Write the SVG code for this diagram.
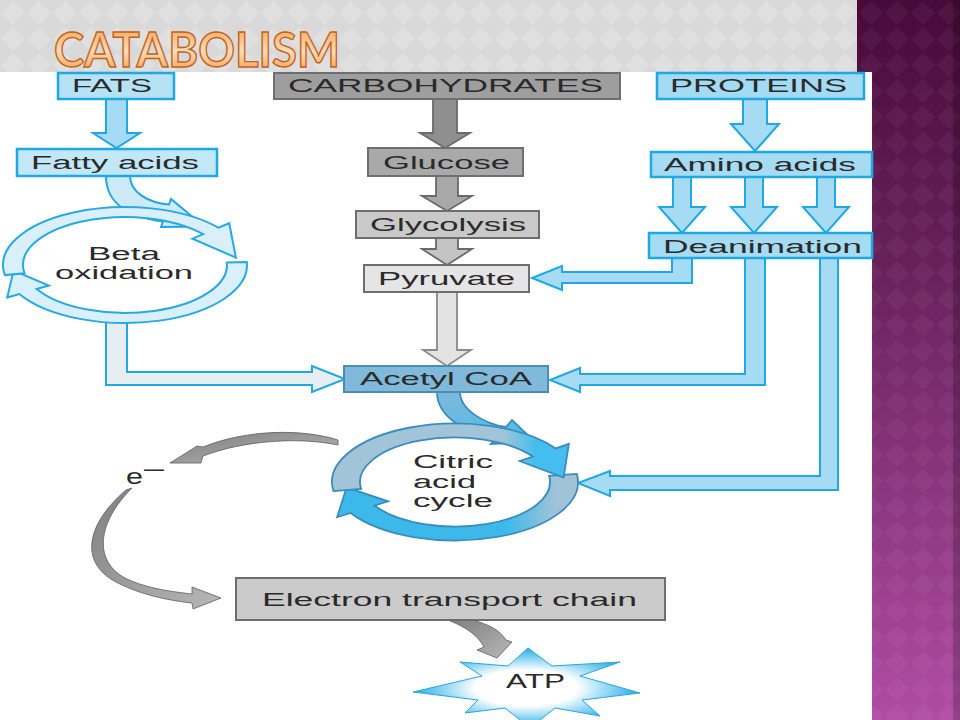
<svg xmlns="http://www.w3.org/2000/svg" width="960" height="720" viewBox="0 0 960 720">
<defs>
<pattern id="dia" width="26" height="26" patternUnits="userSpaceOnUse">
<rect width="26" height="26" fill="#d9d9d9"/>
<polygon points="13,1 25,13 13,25 1,13" fill="#e0e0e0"/>
</pattern>
<pattern id="diaP" width="26" height="26" patternUnits="userSpaceOnUse">
<polygon points="13,1 25,13 13,25 1,13" fill="#ffffff" fill-opacity="0.04"/>
</pattern>
<linearGradient id="purple" x1="0" y1="0" x2="0" y2="1">
<stop offset="0" stop-color="#470a39"/>
<stop offset="0.45" stop-color="#702664"/>
<stop offset="1" stop-color="#b04ca3"/>
</linearGradient>
<linearGradient id="titleG" x1="0" y1="0" x2="0" y2="1">
<stop offset="0" stop-color="#f39a42"/>
<stop offset="0.55" stop-color="#fcdcb8"/>
<stop offset="1" stop-color="#f0953c"/>
</linearGradient>
<linearGradient id="grayArr" x1="0" y1="0" x2="1" y2="1">
<stop offset="0" stop-color="#7e7e7e"/>
<stop offset="1" stop-color="#b8b8b8"/>
</linearGradient>
<linearGradient id="citTop" x1="0" y1="0" x2="1" y2="0">
<stop offset="0" stop-color="#a2c4d9"/>
<stop offset="0.72" stop-color="#a2c4d9"/>
<stop offset="0.86" stop-color="#45bdee"/>
<stop offset="1" stop-color="#45bdee"/>
</linearGradient>
<linearGradient id="citBot" x1="0" y1="0" x2="1" y2="0">
<stop offset="0" stop-color="#3cb9ea"/>
<stop offset="0.7" stop-color="#3cb9ea"/>
<stop offset="0.9" stop-color="#9fc2d6"/>
<stop offset="1" stop-color="#9fc2d6"/>
</linearGradient>
<linearGradient id="acetArr" x1="0" y1="0" x2="1" y2="1">
<stop offset="0" stop-color="#7fb8d9"/>
<stop offset="1" stop-color="#45bdee"/>
</linearGradient>
<radialGradient id="star" cx="0.5" cy="0.5" r="0.5">
<stop offset="0" stop-color="#ffffff"/>
<stop offset="0.45" stop-color="#ffffff"/>
<stop offset="1" stop-color="#22aee8"/>
</radialGradient>
<style>
.t{font-family:"Liberation Sans",Arial,sans-serif;font-size:18px;fill:#2a2a2a}
.bb{stroke:#1fa8e4;stroke-width:2.5}
.gb{stroke:#6e6e6e;stroke-width:2}
.ba{fill:#a6dbf4;stroke:#1fa8e4;stroke-width:2;stroke-linejoin:miter}
.ga{stroke:#6a6a6a;stroke-width:1.8}
.gc{fill:url(#grayArr);stroke:#5e5e5e;stroke-width:0.8}
.ring{vector-effect:non-scaling-stroke}
</style>
</defs>

<!-- background -->
<rect x="0" y="0" width="960" height="720" fill="url(#purple)"/>
<rect x="0" y="0" width="960" height="720" fill="url(#diaP)"/>
<rect x="953" y="0" width="7" height="720" fill="#000" fill-opacity="0.18"/>
<rect x="0" y="0" width="857" height="72" fill="url(#dia)"/>
<rect x="0" y="72" width="872" height="648" fill="#ffffff"/>
<text x="54" y="67" textLength="286" lengthAdjust="spacingAndGlyphs" style="font-family:Lato,'Open Sans',sans-serif;font-size:48px;font-weight:700;fill:url(#titleG);stroke:#c4621b;stroke-width:1.4">CATABOLISM</text>

<g id="connectors">
<!-- straight block arrows -->
<polygon class="ba" points="106,99 127,99 127,133 140,133 116.5,148 93,133 106,133"/>
<polygon class="ba" points="743,99 767,99 767,124 779,124 755,151 731,124 743,124"/>
<polygon class="ba" points="673,177 691,177 691,207 705,207 682,233 659,207 673,207"/>
<polygon class="ba" points="745,177 763,177 763,207 777,207 754,233 731,207 745,207"/>
<polygon class="ba" points="817,177 835,177 835,207 849,207 826,233 803,207 817,207"/>
<polygon class="ba" points="672,258 692,258 692,283 562,283 562,290 532,278 562,266 562,272 672,272"/>
<polygon class="ba" points="745,258 765,258 765,385 580,385 580,392 550,380 580,368 580,374 745,374"/>
<polygon class="ba" points="820,258 838,258 838,490 610,490 610,496 578,483 610,471 610,476 820,476"/>
<polygon class="ba" style="fill:#e6eef2" points="106,316 127,316 127,372 312,372 312,366 345,379 312,392 312,385 106,385"/>
<polygon class="ga" style="fill:#8f8f8f" points="433,99 457,99 457,133 470,133 445,148 420,133 433,133"/>
<polygon class="ga" style="fill:#a8a8a8" points="436,176 458,176 458,196 472,196 447,211 422,196 436,196"/>
<polygon class="ga" style="fill:#c4c4c4" points="436,238 458,238 458,249 472,249 447,265 422,249 436,249"/>
<polygon class="ga" style="fill:#e3e3e3;stroke:#8a8a8a" points="437,292 457,292 457,350 471,350 447,366 423,350 437,350"/>
<!-- curved blue arrows -->
<path class="ba" style="fill:#cfeaf7" d="M106 176 L130 176 C130 192 148 203 169 204.5 L171 199 L204 226.6 L161 227 L163 221.5 C130 217 106 205 106 176 Z"/>
<path style="fill:url(#acetArr);stroke:#3a8cbd;stroke-width:1.8" d="M437 392 L460 392 C460 410 485 424 506 427 L512 420 L535 442 L491 444 L497 438 C468 434 437 418 437 392 Z"/>
<!-- gray curved arrows -->
<path class="gc" d="M338 440 C300 428 245 430 203 447 L197 446 L170 463 L201 463 L203 456 C245 440 300 437 338 445 Z"/>
<path class="gc" d="M126 490 C85 525 78 565 120 584 C140 594 165 600 192 603 L193 609 L221 598 L192 587 L192 594 C165 591 143 587 125 578 C95 562 95 525 132 488 Z"/>
<path class="gc" d="M448 620 L472 620 C488 624 500 630 506 640 L512 642 L497 658 L477 650 L484 647 C478 636 468 628 448 620 Z"/>
</g>

<g id="node-fats">
<rect class="bb" x="58" y="73" width="116" height="26" fill="#b6e2f6"/>
<text class="t" x="72" y="92" textLength="80" lengthAdjust="spacingAndGlyphs">FATS</text>
</g>
<g id="node-carbohydrates">
<rect class="gb" x="274" y="73" width="346" height="26" fill="#9e9e9e"/>
<text class="t" x="288" y="92" textLength="315" lengthAdjust="spacingAndGlyphs">CARBOHYDRATES</text>
</g>
<g id="node-proteins">
<rect class="bb" x="657" y="73" width="207" height="26" fill="#a3daf4"/>
<text class="t" x="670" y="92" textLength="177" lengthAdjust="spacingAndGlyphs">PROTEINS</text>
</g>
<g id="node-fatty-acids">
<rect class="bb" x="17" y="149" width="200" height="27" fill="#c2e7f7"/>
<text class="t" x="31" y="169" textLength="168" lengthAdjust="spacingAndGlyphs">Fatty acids</text>
</g>
<g id="node-glucose">
<rect class="gb" x="368" y="148" width="155" height="28" fill="#a9a9a9"/>
<text class="t" x="383" y="169" textLength="127" lengthAdjust="spacingAndGlyphs">Glucose</text>
</g>
<g id="node-amino-acids">
<rect class="bb" x="651" y="152" width="221" height="25" fill="#a6dbf4"/>
<text class="t" x="664" y="171" textLength="192" lengthAdjust="spacingAndGlyphs">Amino acids</text>
</g>
<g id="node-glycolysis">
<rect class="gb" x="356" y="211" width="183" height="27" fill="#c9c9c9"/>
<text class="t" x="370" y="231" textLength="156" lengthAdjust="spacingAndGlyphs">Glycolysis</text>
</g>
<g id="node-deanimation">
<rect class="bb" x="649" y="233" width="223" height="25" fill="#a6dbf4"/>
<text class="t" x="663" y="253" textLength="199" lengthAdjust="spacingAndGlyphs">Deanimation</text>
</g>
<g id="node-pyruvate">
<rect class="gb" x="364" y="265" width="165" height="27" fill="#e5e5e5"/>
<text class="t" x="378" y="285" textLength="137" lengthAdjust="spacingAndGlyphs">Pyruvate</text>
</g>
<g id="node-beta-oxidation">
<g transform="translate(125,265) scale(2,1)">
<path class="ring" fill="#d9eff9" stroke="#27a9e1" stroke-width="2" d="M60.92 -3.03 A61 58 0 0 1 -52.83 29 L-58.89 32.5 L-55.69 5.54 L-38.1 20.5 L-44.17 24 A51 48 0 0 0 50.93 -2.51 Z"/>
<path class="ring" fill="#d9eff9" stroke="#27a9e1" stroke-width="2" d="M-60.07 10.07 A61 58 0 0 1 46.73 -37.28 L52.09 -41.78 L55.46 -7.38 L33.7 -26.35 L39.07 -30.85 A51 48 0 0 0 -50.23 8.33 Z"/>
</g>
<text class="t" x="88" y="260" textLength="72" lengthAdjust="spacingAndGlyphs">Beta</text>
<text class="t" x="55" y="279" textLength="138" lengthAdjust="spacingAndGlyphs">oxidation</text>
</g>
<g id="node-acetyl-coa">
<rect x="344" y="366" width="204" height="26" fill="#80b9d9" stroke="#4a8db5" stroke-width="2"/>
<text class="t" x="360" y="385" textLength="172" lengthAdjust="spacingAndGlyphs">Acetyl CoA</text>
</g>
<g id="node-citric-acid-cycle">
<g transform="translate(455,482) scale(2,1)">
<path class="ring" fill="url(#citBot)" stroke="#3a8cbd" stroke-width="1.8" d="M60.9 -8.14 A61.5 58.5 0 0 1 -52.15 31 L-58.94 35.24 L-54.2 5.38 L-33.5 19.34 L-40.28 23.58 A47.5 44.5 0 0 0 47.04 -6.19 Z"/>
<path class="ring" fill="url(#citTop)" stroke="#3a8cbd" stroke-width="1.8" d="M-60.74 9.15 A61.5 58.5 0 0 1 50.38 -33.56 L56.93 -38.14 L54.29 -4.49 L32.36 -20.94 L38.91 -25.52 A47.5 44.5 0 0 0 -46.92 6.96 Z"/>
</g>
<text class="t" x="413" y="468" textLength="80" lengthAdjust="spacingAndGlyphs">Citric</text>
<text class="t" x="413" y="488" textLength="63" lengthAdjust="spacingAndGlyphs">acid</text>
<text class="t" x="413" y="507" textLength="80" lengthAdjust="spacingAndGlyphs">cycle</text>
</g>
<g id="node-electron">
<text class="t" style="font-size:22px"><tspan x="126" y="484" textLength="17" lengthAdjust="spacingAndGlyphs">e</tspan><tspan x="144" y="476" textLength="20" lengthAdjust="spacingAndGlyphs">–</tspan></text>
</g>
<g id="node-etc">
<rect class="gb" x="236" y="578" width="429" height="42" fill="#cbcbcb"/>
<text class="t" x="262" y="606" textLength="375" lengthAdjust="spacingAndGlyphs">Electron transport chain</text>
</g>
<g id="node-atp">
<polygon fill="url(#star)" stroke="#2aa6de" stroke-width="1" points="413,692 482,676 460,662 508,666 528,648 552,666 620,662 580,676 640,693 582,700 600,716 555,708 530,728 505,708 465,713 478,700"/>
<text class="t" x="506" y="688" textLength="59" lengthAdjust="spacingAndGlyphs" style="font-size:20px">ATP</text>
</g>
</svg>
